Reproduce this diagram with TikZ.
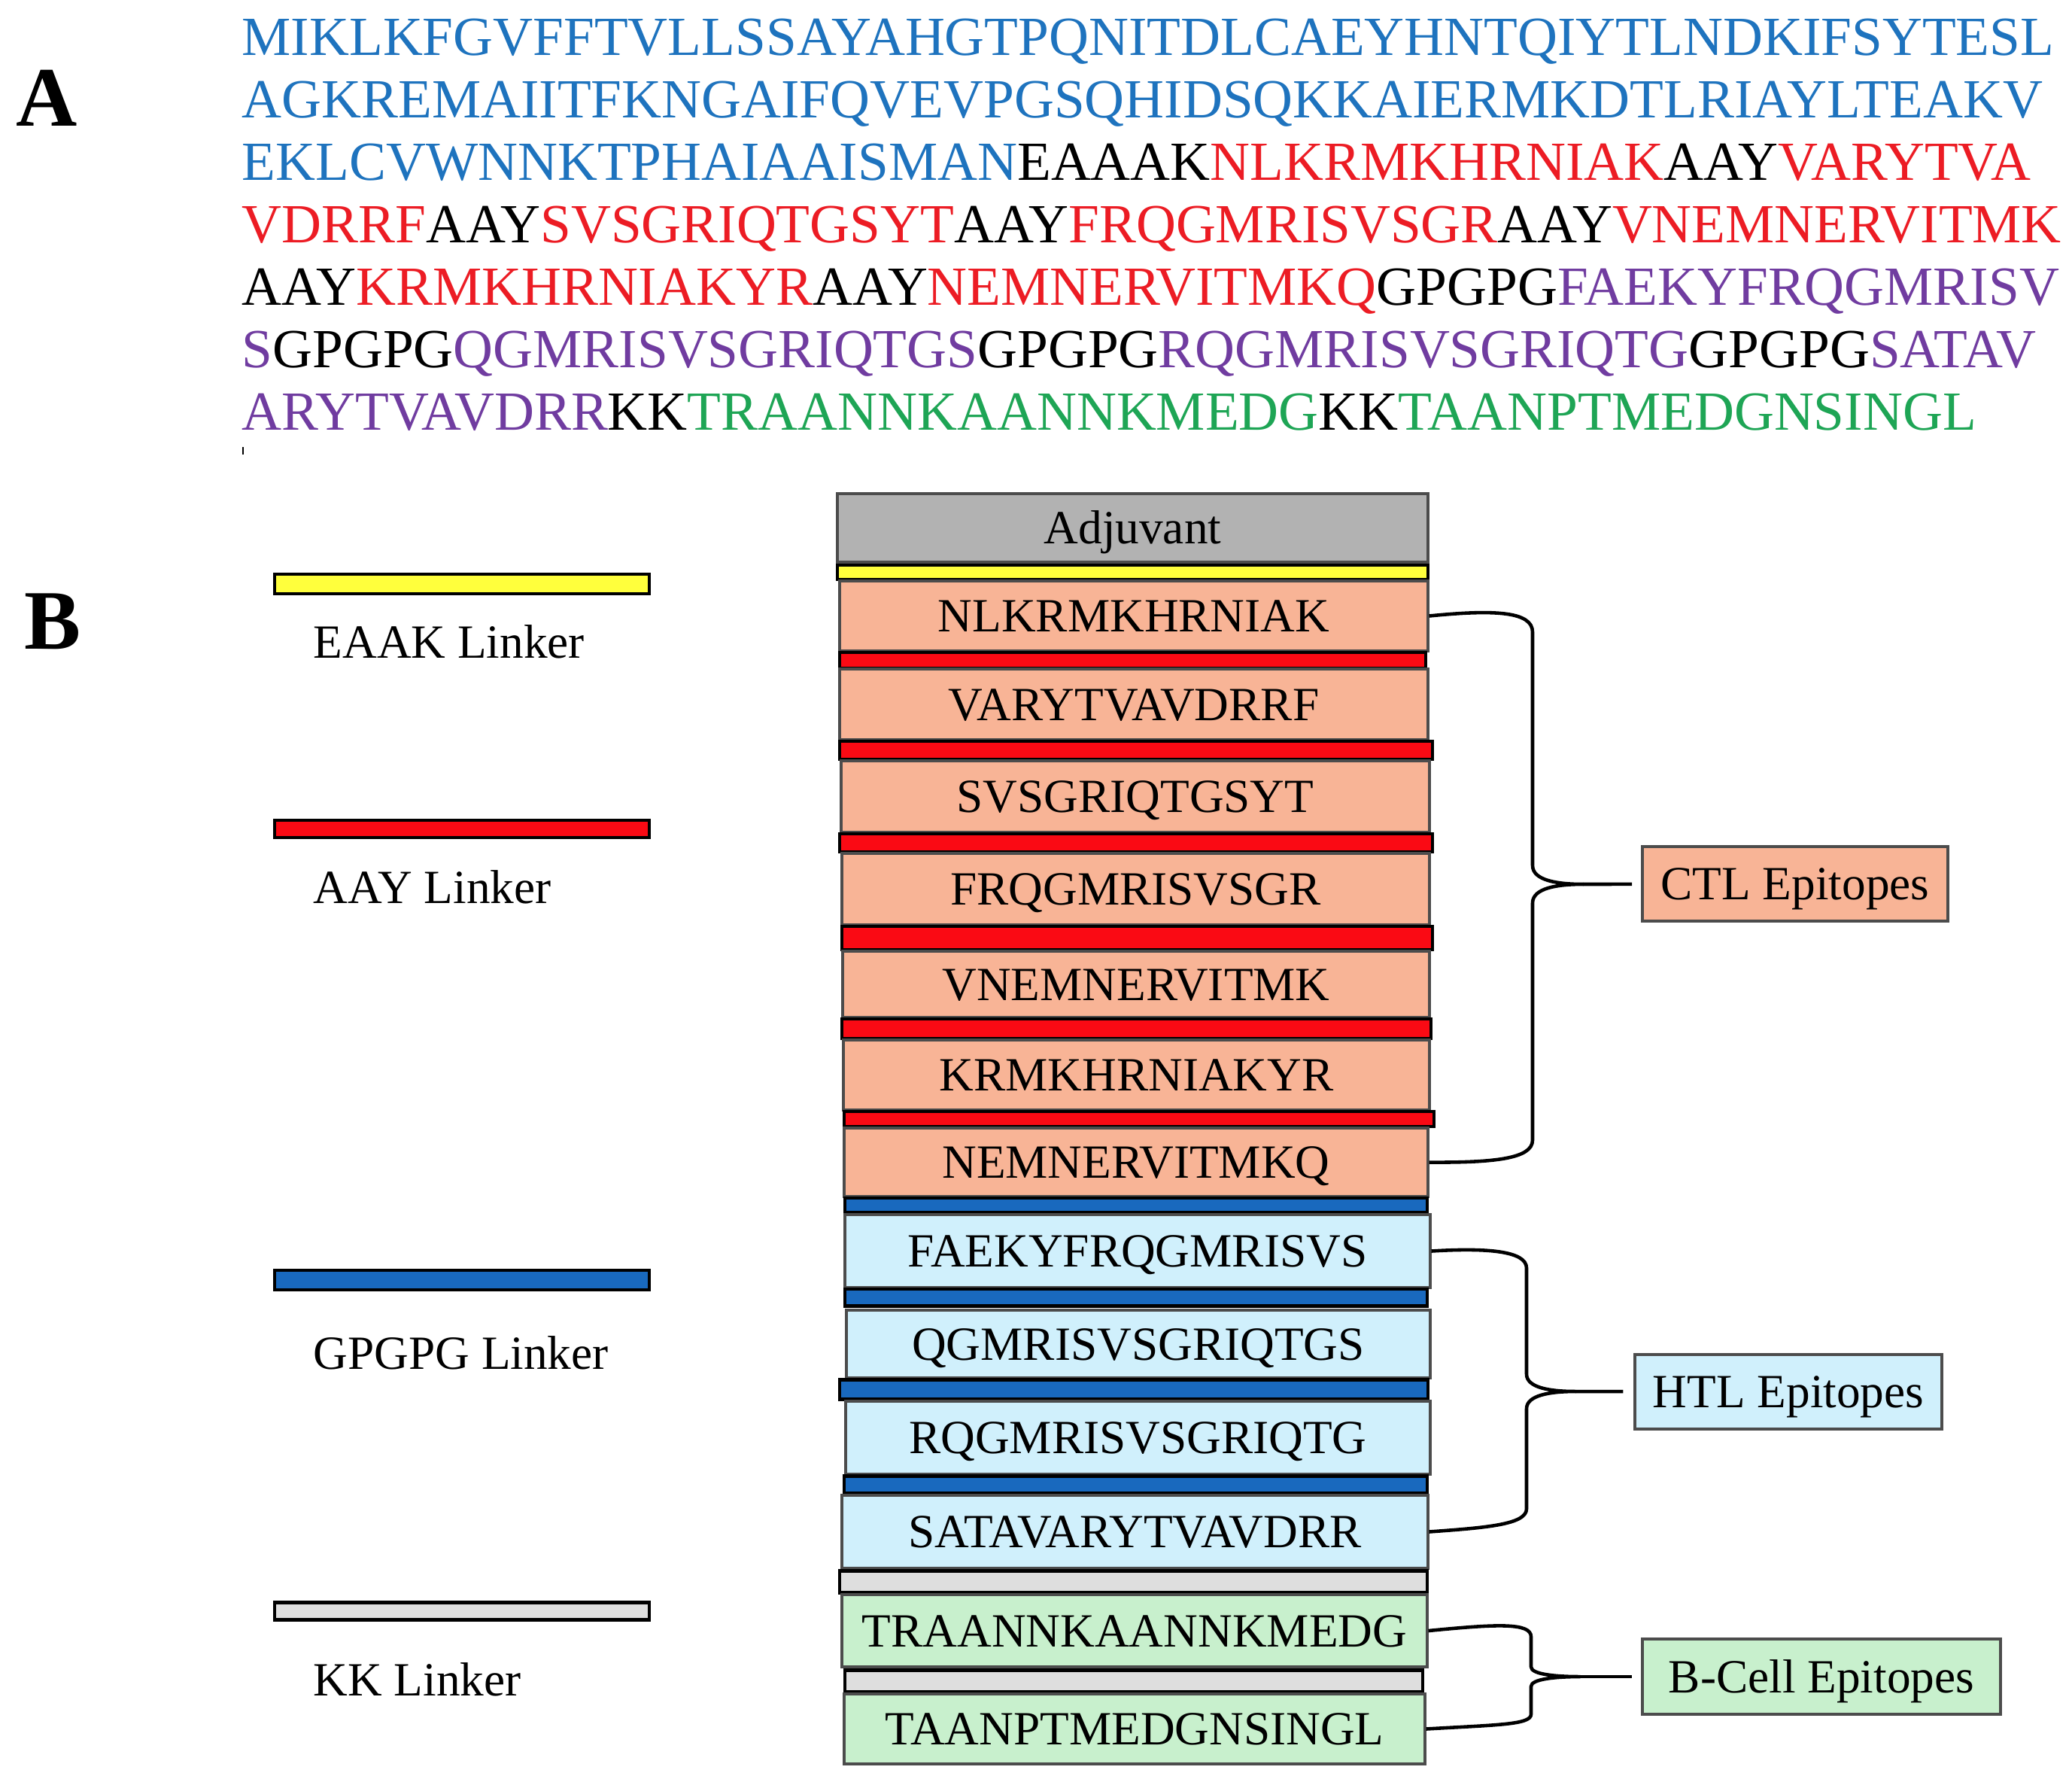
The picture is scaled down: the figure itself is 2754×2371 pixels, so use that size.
\documentclass[tikz,border=0pt]{standalone}
\usepackage{fontspec}
\setmainfont{Liberation Serif}
\usetikzlibrary{fit}

\definecolor{seqblue}{RGB}{30,115,190}
\definecolor{seqred}{RGB}{236,28,36}
\definecolor{seqpurple}{RGB}{112,60,160}
\definecolor{seqgreen}{RGB}{30,165,85}
\definecolor{ctlfill}{RGB}{248,180,150}
\definecolor{htlfill}{RGB}{208,240,252}
\definecolor{bcfill}{RGB}{200,240,205}
\definecolor{adjgray}{RGB}{178,178,178}
\definecolor{eaakyellow}{RGB}{255,255,60}
\definecolor{aayred}{RGB}{250,10,20}
\definecolor{gpgblue}{RGB}{25,105,190}
\definecolor{kkgray}{RGB}{222,222,222}

\newcommand{\seqB}[1]{\textcolor{seqblue}{#1}}
\newcommand{\seqR}[1]{\textcolor{seqred}{#1}}
\newcommand{\seqP}[1]{\textcolor{seqpurple}{#1}}
\newcommand{\seqG}[1]{\textcolor{seqgreen}{#1}}

\tikzset{
	seqrow/.style={anchor=base west, inner sep=0pt, font=\fontsize{20.85}{24}\selectfont},
	panel/.style={anchor=base, inner sep=0pt, font=\fontsize{32}{32}\selectfont\bfseries},
	block/.style={draw=black!70, line width=0.9pt, inner sep=0pt},
	blocktext/.style={inner sep=0pt, text height=12pt, text depth=0pt, font=\fontsize{18}{22}\selectfont},
	linker/.style={draw=black, line width=1.4pt},
	legend/.style={anchor=base west, inner sep=0pt, font=\fontsize{18}{22}\selectfont},
	bracestroke/.style={line width=1.3pt, line join=round},
}

\begin{document}
\begin{tikzpicture}[x=0.01cm, y=-0.01cm]
	\useasboundingbox (0,0) rectangle (2754,2371);
	% panel A: sequence
	\node[panel] (lblA) at (62,167) {A};
	\node[seqrow] (row1) at (321,73) {\seqB{MIKLKFGVFFTVLLSSAYAHGTPQNITDLCAEYHNTQIYTLNDKIFSYTESL}};
	\node[seqrow] (row2) at (321,156) {\seqB{AGKREMAIITFKNGAIFQVEVPGSQHIDSQKKAIERMKDTLRIAYLTEAKV}};
	\node[seqrow] (row3) at (321,239) {\seqB{EKLCVWNNKTPHAIAAISMAN}EAAAK\seqR{NLKRMKHRNIAK}AAY\seqR{VARYTVA}};
	\node[seqrow] (row4) at (321,322) {\seqR{VDRRF}AAY\seqR{SVSGRIQTGSYT}AAY\seqR{FRQGMRISVSGR}AAY\seqR{VNEMNERVITMK}};
	\node[seqrow] (row5) at (321,405) {AAY\seqR{KRMKHRNIAKYR}AAY\seqR{NEMNERVITMKQ}GPGPG\seqP{FAEKYFRQGMRISV}};
	\node[seqrow] (row6) at (321,488) {\seqP{S}GPGPG\seqP{QGMRISVSGRIQTGS}GPGPG\seqP{RQGMRISVSGRIQTG}GPGPG\seqP{SATAV}};
	\node[seqrow] (row7) at (321,571) {\seqP{ARYTVAVDRR}KK\seqG{TRAANNKAANNKMEDG}KK\seqG{TAANPTMEDGNSINGL}};
	\draw[line width=0.8pt] (323,594) -- (323,604);

	% panel B: legend
	\node[panel] (lblB) at (70,862) {B};
	\filldraw[linker, fill=eaakyellow] (365,763) rectangle (863,789);
	\node[legend] (legE) at (416,874) {EAAK Linker};
	\filldraw[linker, fill=aayred] (365,1090) rectangle (863,1113);
	\node[legend] (legA) at (416,1200) {AAY Linker};
	\filldraw[linker, fill=gpgblue] (365,1688) rectangle (863,1714);
	\node[legend] (legG) at (416,1819) {GPGPG Linker};
	\filldraw[linker, fill=kkgray] (365,2129) rectangle (863,2152);
	\node[legend] (legK) at (416,2253) {KK Linker};

	% construct
	\node[block, fill=adjgray, fit={(1113,656) (1898,747)}, label={[blocktext]center:Adjuvant}] (adj) {};
	\filldraw[linker, fill=eaakyellow] (1113,751) rectangle (1898,770);
	\node[block, fill=ctlfill, fit={(1116,772) (1898,865)}, label={[blocktext]center:NLKRMKHRNIAK}] (nlk) {};
	\filldraw[linker, fill=aayred] (1116,867) rectangle (1895,888);
	\node[block, fill=ctlfill, fit={(1116,889) (1898,983)}, label={[blocktext]center:VARYTVAVDRRF}] (var) {};
	\filldraw[linker, fill=aayred] (1116,985) rectangle (1904,1009);
	\node[block, fill=ctlfill, fit={(1118,1011) (1900,1106)}, label={[blocktext]center:SVSGRIQTGSYT}] (svs) {};
	\filldraw[linker, fill=aayred] (1116,1108) rectangle (1904,1132);
	\node[block, fill=ctlfill, fit={(1119,1134) (1900,1229)}, label={[blocktext]center:FRQGMRISVSGR}] (frq) {};
	\filldraw[linker, fill=aayred] (1119,1231) rectangle (1904,1262);
	\node[block, fill=ctlfill, fit={(1120,1264) (1900,1352)}, label={[blocktext]center:VNEMNERVITMK}] (vne) {};
	\filldraw[linker, fill=aayred] (1119,1354) rectangle (1902,1380);
	\node[block, fill=ctlfill, fit={(1121,1382) (1900,1475)}, label={[blocktext]center:KRMKHRNIAKYR}] (krm) {};
	\filldraw[linker, fill=aayred] (1122,1477) rectangle (1906,1497);
	\node[block, fill=ctlfill, fit={(1122,1499) (1898,1590)}, label={[blocktext]center:NEMNERVITMKQ}] (nem) {};
	\filldraw[linker, fill=gpgblue] (1123,1592) rectangle (1897,1611);
	\node[block, fill=htlfill, fit={(1123,1614) (1901,1711)}, label={[blocktext]center:FAEKYFRQGMRISVS}] (fae) {};
	\filldraw[linker, fill=gpgblue] (1123,1713) rectangle (1897,1735);
	\node[block, fill=htlfill, fit={(1125,1741) (1901,1831)}, label={[blocktext]center:QGMRISVSGRIQTGS}] (qgm) {};
	\filldraw[linker, fill=gpgblue] (1116,1833) rectangle (1898,1859);
	\node[block, fill=htlfill, fit={(1124,1862) (1901,1959)}, label={[blocktext]center:RQGMRISVSGRIQTG}] (rqg) {};
	\filldraw[linker, fill=gpgblue] (1122,1961) rectangle (1897,1984);
	\node[block, fill=htlfill, fit={(1119,1987) (1898,2084)}, label={[blocktext]center:SATAVARYTVAVDRR}] (sat) {};
	\filldraw[linker, fill=kkgray] (1116,2087) rectangle (1897,2116);
	\node[block, fill=bcfill, fit={(1119,2119) (1897,2215)}, label={[blocktext]center:TRAANNKAANNKMEDG}] (tra) {};
	\filldraw[linker, fill=kkgray] (1123,2219) rectangle (1891,2248);
	\node[block, fill=bcfill, fit={(1122,2251) (1894,2344)}, label={[blocktext]center:TAANPTMEDGNSINGL}] (taa) {};

	% epitope groups
	\node[block, fill=ctlfill, fit={(2183,1125) (2589,1224)}, label={[blocktext]center:CTL Epitopes}] (ctl) {};
	\node[block, fill=htlfill, fit={(2173,1800) (2581,1899)}, label={[blocktext]center:HTL Epitopes}] (htl) {};
	\node[block, fill=bcfill, fit={(2183,2178) (2659,2278)}, label={[blocktext]center:B-Cell Epitopes}] (bce) {};

	\coordinate (ctlcusp) at (2104,1175);
	\coordinate (htlcusp) at (2094,1849);
	\coordinate (bcecusp) at (2100,2228);

	\draw[bracestroke] (nlk.east) .. controls (1985,810) and (2037,812) .. (2037,840)
		-- (2037,1150) .. controls (2037,1170) and (2070,1175) .. (ctlcusp)
		.. controls (2070,1175) and (2037,1180) .. (2037,1200)
		-- (2037,1515) .. controls (2037,1540) and (1985,1545) .. (nem.east);
	\draw[bracestroke, shorten >=3.5pt] (ctlcusp) -- (ctl);
	\draw[bracestroke] (fae.east) .. controls (1975,1658) and (2029,1662) .. (2029,1685)
		-- (2029,1826) .. controls (2029,1844) and (2060,1849) .. (htlcusp)
		.. controls (2060,1849) and (2029,1854) .. (2029,1872)
		-- (2029,2005) .. controls (2029,2026) and (1975,2030) .. (sat.east);
	\draw[bracestroke, shorten >=4pt] (htlcusp) -- (htl);
	\draw[bracestroke] (tra.east) .. controls (1990,2158) and (2035,2156) .. (2035,2175)
		-- (2035,2215) .. controls (2035,2225) and (2068,2228) .. (bcecusp)
		.. controls (2068,2228) and (2035,2231) .. (2035,2241)
		-- (2035,2278) .. controls (2035,2292) and (1990,2292) .. (taa.east);
	\draw[bracestroke, shorten >=3.5pt] (bcecusp) -- (bce);
\end{tikzpicture}
\end{document}
